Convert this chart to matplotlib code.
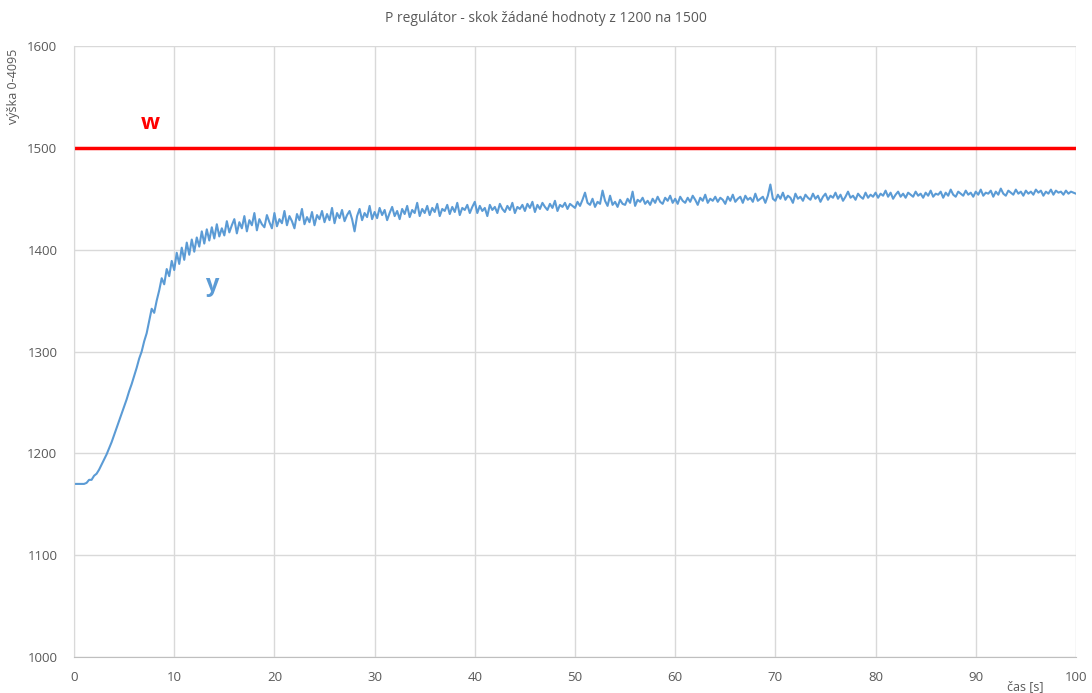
import numpy as np
import matplotlib.pyplot as plt

# sampling period of the recorded level [s]
dt = 0.25

# setpoint w
w_value = 1500

y_rows = [
    [1170, 1170, 1170, 1170, 1170, 1171, 1174, 1174, 1178, 1180, 1184, 1189, 1194, 1199, 1205, 1211, 1218, 1225, 1232, 1239],
    [1246, 1253, 1261, 1268, 1276, 1284, 1293, 1300, 1310, 1318, 1330, 1342, 1338, 1350, 1360, 1372, 1366, 1381, 1374, 1389],
    [1380, 1397, 1386, 1402, 1390, 1407, 1395, 1410, 1398, 1412, 1403, 1418, 1406, 1420, 1409, 1422, 1411, 1425, 1413, 1421],
    [1414, 1428, 1417, 1424, 1430, 1416, 1427, 1421, 1433, 1418, 1429, 1424, 1436, 1419, 1430, 1425, 1422, 1434, 1427, 1421],
    [1436, 1423, 1430, 1426, 1438, 1424, 1433, 1428, 1421, 1435, 1429, 1440, 1425, 1432, 1427, 1437, 1424, 1434, 1430, 1438],
    [1427, 1435, 1429, 1441, 1426, 1436, 1431, 1439, 1428, 1434, 1438, 1430, 1418, 1433, 1440, 1429, 1436, 1432, 1443, 1430],
    [1437, 1431, 1441, 1434, 1439, 1429, 1436, 1442, 1433, 1438, 1430, 1440, 1435, 1443, 1432, 1439, 1436, 1446, 1433, 1440],
    [1436, 1443, 1434, 1441, 1437, 1445, 1433, 1440, 1438, 1444, 1435, 1442, 1437, 1446, 1434, 1441, 1439, 1444, 1436, 1442],
    [1447, 1436, 1443, 1438, 1441, 1433, 1444, 1439, 1442, 1436, 1445, 1440, 1437, 1443, 1439, 1446, 1436, 1442, 1440, 1444],
    [1438, 1445, 1441, 1447, 1437, 1444, 1440, 1446, 1442, 1439, 1445, 1441, 1448, 1438, 1444, 1442, 1446, 1440, 1445, 1443],
    [1441, 1447, 1443, 1449, 1456, 1446, 1444, 1450, 1442, 1447, 1445, 1458, 1448, 1443, 1453, 1444, 1447, 1442, 1449, 1445],
    [1444, 1450, 1446, 1457, 1443, 1449, 1447, 1451, 1445, 1448, 1444, 1450, 1446, 1452, 1447, 1445, 1451, 1448, 1453, 1446],
    [1450, 1445, 1452, 1448, 1446, 1451, 1447, 1453, 1449, 1444, 1451, 1448, 1454, 1446, 1450, 1448, 1452, 1447, 1451, 1449],
    [1445, 1452, 1448, 1454, 1447, 1450, 1452, 1446, 1453, 1449, 1451, 1447, 1455, 1448, 1450, 1452, 1446, 1453, 1464, 1450],
    [1448, 1454, 1450, 1456, 1449, 1453, 1451, 1446, 1455, 1450, 1452, 1448, 1454, 1451, 1449, 1455, 1450, 1453, 1447, 1452],
    [1455, 1449, 1453, 1451, 1456, 1450, 1454, 1448, 1452, 1457, 1451, 1453, 1449, 1455, 1452, 1450, 1456, 1451, 1454, 1452],
    [1456, 1451, 1455, 1453, 1458, 1452, 1456, 1450, 1454, 1457, 1452, 1455, 1451, 1456, 1454, 1452, 1457, 1453, 1455, 1451],
    [1456, 1453, 1458, 1452, 1455, 1454, 1457, 1451, 1456, 1453, 1459, 1454, 1452, 1457, 1455, 1453, 1458, 1454, 1456, 1452],
    [1457, 1454, 1459, 1453, 1456, 1455, 1458, 1452, 1457, 1454, 1460, 1455, 1453, 1458, 1456, 1454, 1459, 1455, 1457, 1453],
    [1458, 1455, 1457, 1454, 1459, 1456, 1458, 1453, 1457, 1455, 1459, 1454, 1458, 1456, 1457, 1454, 1458, 1455, 1457, 1456],
    [1455],
]

x_ticks = [0, 10, 20, 30, 40, 50, 60, 70, 80, 90, 100]
y_ticks = [1000, 1100, 1200, 1300, 1400, 1500, 1600]

y = np.concatenate([np.array(r, dtype=float) for r in y_rows])
t = np.arange(len(y)) * dt

plt.rcParams['font.family'] = ['Open Sans', 'DejaVu Sans']

fig = plt.figure(figsize=(10.92, 6.93), dpi=100)
ax = fig.add_axes([0.0678, 0.0519, 0.9175, 0.8817])

grid_c = '#D9D9D9'
text_c = '#595959'

ax.plot(t, y, color='#5B9BD5', linewidth=1.5)
ax.plot([x_ticks[0], x_ticks[-1]], [w_value, w_value], color='#FF0000', linewidth=2.5)

ax.set_xlim(x_ticks[0], x_ticks[-1])
ax.set_ylim(y_ticks[0], y_ticks[-1])
ax.set_xticks(x_ticks)
ax.set_yticks(y_ticks)
ax.grid(True, color=grid_c, linewidth=1)
ax.set_axisbelow(True)
ax.tick_params(length=0, colors=text_c, labelsize=9.5)
ax.tick_params(axis='x', pad=10)
ax.tick_params(axis='y', pad=12)
for s in ['top', 'right']:
    ax.spines[s].set_visible(False)
ax.spines['left'].set_color(grid_c)
ax.spines['bottom'].set_color('#BFBFBF')

ax.text(7.6, 1524, 'w', color='#FF0000', fontsize=16, fontweight='bold', ha='center', va='center')
ax.text(13.8, 1365, 'y', color='#5B9BD5', fontsize=17, fontweight='bold', ha='center', va='center')

fig.text(0.5, 0.974, 'P regulátor - skok žádané hodnoty z 1200 na 1500', ha='center', va='center',
         color=text_c, fontsize=10)
fig.text(0.012, 0.875, 'výška 0-4095', rotation=90, ha='center', va='center', color=text_c, fontsize=9)
fig.text(0.939, 0.009, 'čas [s]', ha='center', va='center', color=text_c, fontsize=9)

fig.savefig('out.png', dpi=100, facecolor='white')
